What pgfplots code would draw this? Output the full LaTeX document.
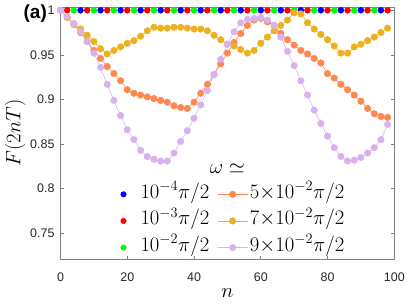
\documentclass[border=0pt]{standalone}
\usepackage{pgfplots}
\pgfplotsset{compat=1.18}
\usepackage{pgfplotstable}
\usepackage{fontspec}
\setmainfont{Liberation Sans}

\definecolor{cO}{RGB}{255,135,80}
\definecolor{cY}{RGB}{237,177,32}
\definecolor{cP}{RGB}{215,178,240}
\definecolor{axgray}{RGB}{130,130,130}

\pgfplotsset{
  widelegend/.style={legend image code/.code={\draw[mark repeat=2,mark phase=2,##1] plot coordinates {(0bp,0bp) (15bp,0bp) (30bp,0bp)};}},
  dotlegend/.style={legend image code/.code={\path[draw=none] (0bp,0bp) rectangle (30bp,0bp); \draw[only marks,##1] plot coordinates {(15bp,0bp)};}},
}

\pgfplotstableread{
n o y p
0  1.000 1.000 1.000
2  0.992 0.992 0.993
4  0.984 0.985 0.985
6  0.975 0.979 0.976
8  0.965 0.972 0.965
10 0.955 0.965 0.952
12 0.946 0.957 0.936
14 0.937 0.951 0.917
16 0.929 0.955 0.899
18 0.921 0.959 0.882
20 0.911 0.963 0.866
22 0.907 0.966 0.855
24 0.905 0.971 0.843
26 0.903 0.977 0.836
28 0.901 0.981 0.833
30 0.899 0.980 0.831
32 0.897 0.980 0.831
34 0.893 0.981 0.840
36 0.891 0.981 0.853
38 0.890 0.980 0.865
40 0.897 0.979 0.879
42 0.907 0.979 0.894
44 0.917 0.977 0.910
46 0.928 0.972 0.928
48 0.940 0.967 0.945
50 0.952 0.962 0.962
52 0.964 0.960 0.976
54 0.974 0.956 0.986
56 0.983 0.952 0.990
58 0.989 0.955 0.991
60 0.991 0.963 0.992
62 0.987 0.970 0.989
64 0.983 0.977 0.983
66 0.974 0.983 0.970
68 0.967 0.989 0.954
70 0.961 0.997 0.938
72 0.955 0.996 0.921
74 0.951 0.986 0.905
76 0.946 0.979 0.888
78 0.941 0.973 0.873
80 0.929 0.967 0.859
82 0.924 0.960 0.846
84 0.917 0.952 0.836
86 0.911 0.952 0.831
88 0.905 0.959 0.832
90 0.898 0.962 0.835
92 0.890 0.966 0.840
94 0.884 0.970 0.846
96 0.881 0.975 0.855
98 0.880 0.980 0.872
}\data

\pgfplotstableread{
n f
0 1
6 1
12 1
18 1
24 1
30 1
36 1
42 1
48 1
54 1
60 1
66 1
72 1
78 1
84 1
90 1
96 1
}\dB

\pgfplotstableread{
n f
2 1
8 1
14 1
20 1
26 1
32 1
38 1
44 1
50 1
56 1
62 1
68 1
74 1
80 1
86 1
92 1
98 1
}\dR

\pgfplotstableread{
n f
4 1
10 1
16 1
22 1
28 1
34 1
40 1
46 1
52 1
58 1
64 1
70 1
76 1
82 1
88 1
94 1
}\dG

\begin{document}
\begin{tikzpicture}
\begin{axis}[
  scale only axis, width=333.8bp, height=252bp,
  xmin=0, xmax=100, ymin=0.7212, ymax=1.0037,
  clip=false,
  xtick={0,20,40,60,80,100}, xticklabels={0,20,40,60,80,100},
  ytick={0.75,0.8,0.85,0.9,0.95,1}, yticklabels={0.75,0.8,0.85,0.9,0.95,1},
  xtick pos=both, ytick pos=both,
  xticklabel pos=lower, yticklabel pos=left,
  tick align=inside,
  major tick length=3.5bp,
  axis line style={axgray, line width=0.6bp},
  every tick/.style={axgray, line width=0.6bp},
  tick label style={font=\fontsize{12.5}{15}\selectfont, text=black!85},
  xticklabel style={yshift=-10bp},
  yticklabel style={xshift=-2.5bp},
  xlabel={$n$}, ylabel={$F(2nT)$},
  label style={font=\fontsize{20}{24}\selectfont},
  xlabel style={at={(axis description cs:0.5,-0.135)}, anchor=center},
  ylabel style={at={(axis description cs:-0.136,0.5)}, anchor=center},
  legend columns=2,
  legend cell align=left,
  legend style={draw=none, fill=none, at={(0.5,0.151)}, anchor=center,
    font=\fontsize{20}{26}\selectfont, inner sep=0pt,
    nodes={inner sep=2bp, text height=15bp, text depth=7.6bp},
    /tikz/every even column/.append style={column sep=6bp}},
]
\addlegendimage{dotlegend, mark=*, mark size=2.8bp, blue}
\addlegendentry{$10^{-4}\pi/2$}
\addlegendimage{widelegend, cO, line width=0.6bp, mark=*, mark size=3.2bp}
\addlegendentry{$5{\times}10^{-2}\pi/2$}
\addlegendimage{dotlegend, mark=*, mark size=2.8bp, red}
\addlegendentry{$10^{-3}\pi/2$}
\addlegendimage{widelegend, cY, line width=0.6bp, mark=*, mark size=3.2bp}
\addlegendentry{$7{\times}10^{-2}\pi/2$}
\addlegendimage{dotlegend, mark=*, mark size=2.8bp, green}
\addlegendentry{$10^{-2}\pi/2$}
\addlegendimage{widelegend, cP, line width=0.6bp, mark=*, mark size=3.2bp}
\addlegendentry{$9{\times}10^{-2}\pi/2$}

\addplot[only marks, mark=*, mark size=3.0bp, blue, forget plot] table[x=n,y=f] {\dB};
\addplot[only marks, mark=*, mark size=3.0bp, red, forget plot] table[x=n,y=f] {\dR};
\addplot[only marks, mark=*, mark size=3.0bp, green, forget plot] table[x=n,y=f] {\dG};
\addplot[cO, line width=0.6bp, mark=*, mark size=3.2bp, forget plot] table[x=n,y=o] {\data};
\addplot[cY, line width=0.6bp, mark=*, mark size=3.2bp, forget plot] table[x=n,y=y] {\data};
\addplot[cP, line width=0.6bp, mark=*, mark size=3.2bp, forget plot] table[x=n,y=p] {\data};

\node[font=\fontsize{20}{24}\selectfont] at (rel axis cs:0.5,0.359) {$\omega\simeq$};
\node[anchor=north east, inner sep=0pt, font=\fontsize{19}{22}\selectfont\bfseries] at (rel axis cs:-0.0404,1.008) {(a)};
\end{axis}
\pgfresetboundingbox
\path[use as bounding box] (-60.5bp,-45bp) rectangle (346.5bp,259bp);
\end{tikzpicture}
\end{document}
